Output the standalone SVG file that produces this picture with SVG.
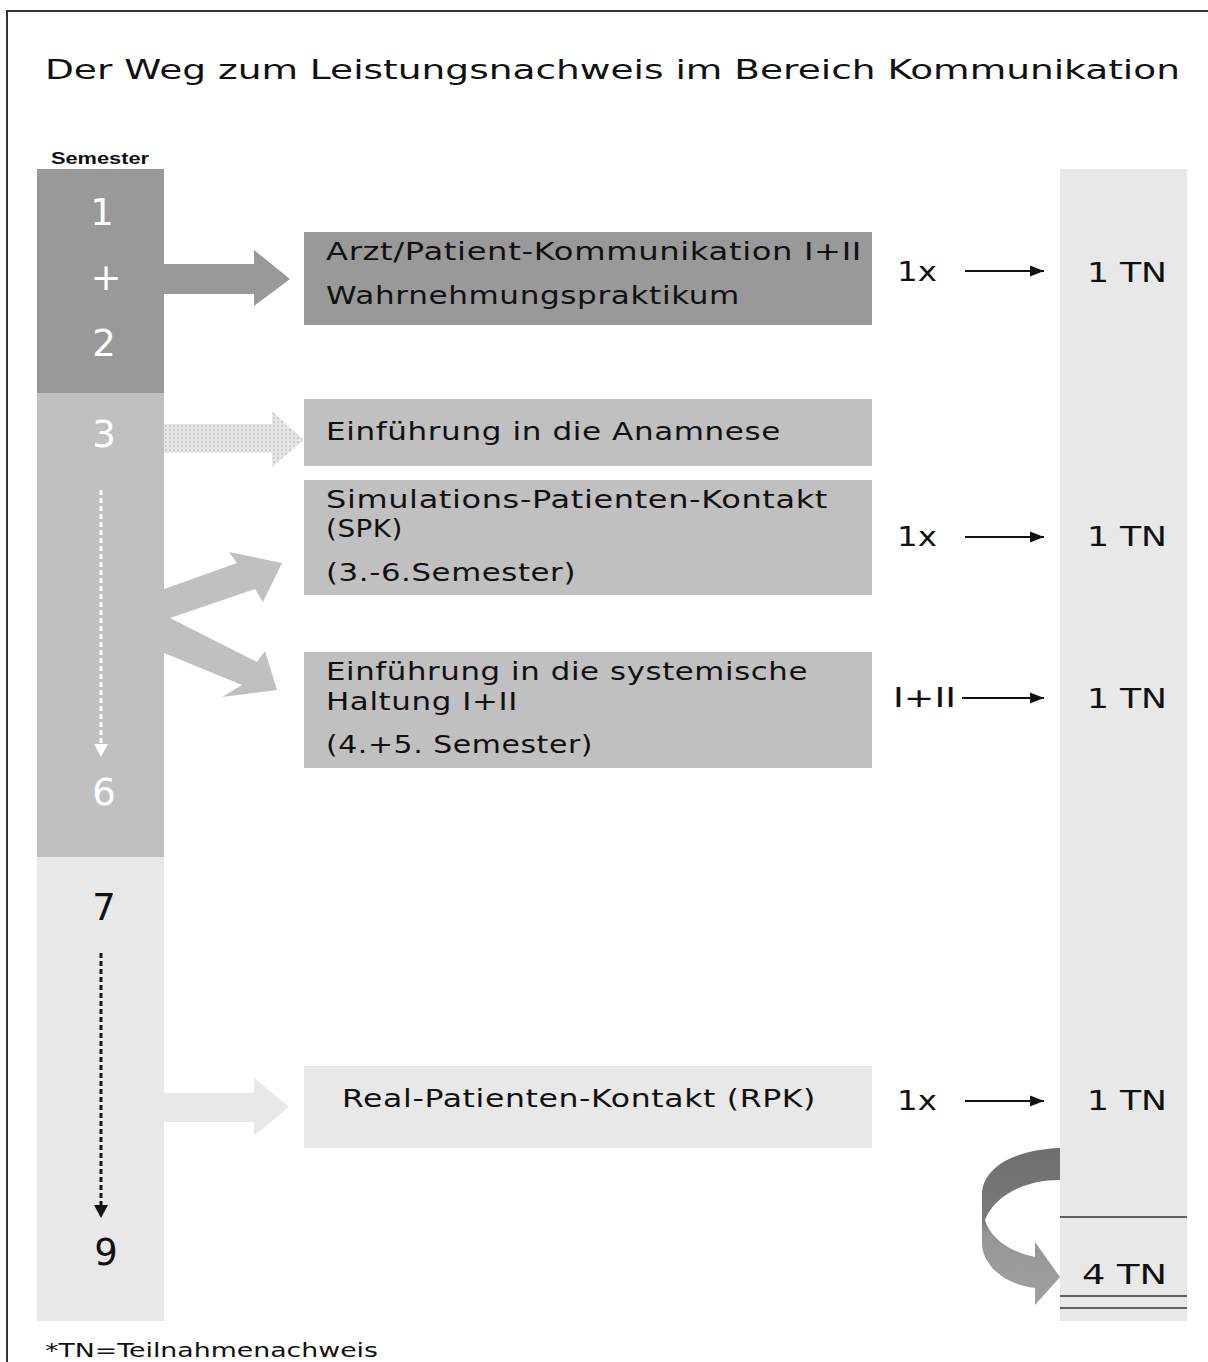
<svg xmlns="http://www.w3.org/2000/svg" width="1208" height="1362" viewBox="0 0 1208 1362">
<style>
.t{font-family:"DejaVu Sans","Liberation Sans",sans-serif;fill:#111}
.box{font-size:25px;letter-spacing:0.5px}
.num{font-family:"DejaVu Sans",sans-serif;font-size:37px;text-anchor:middle}
.w{fill:#ffffff}
.tn{font-size:27px}
.sm{stroke:#111;stroke-width:2;fill:none}
</style>
<defs>
<pattern id="dots" width="4" height="4" patternUnits="userSpaceOnUse">
<rect width="4" height="4" fill="#e6e6e6"/>
<circle cx="2" cy="2" r="1" fill="#c4c4c4"/>
</pattern>
<linearGradient id="curv" x1="0" y1="1148" x2="0" y2="1305" gradientUnits="userSpaceOnUse">
<stop offset="0" stop-color="#6e6e6e"/>
<stop offset="0.45" stop-color="#7a7a7a"/>
<stop offset="0.55" stop-color="#969696"/>
<stop offset="1" stop-color="#a0a0a0"/>
</linearGradient>
<marker id="ah" viewBox="0 0 10 10" refX="10" refY="5" markerWidth="14" markerHeight="14" markerUnits="userSpaceOnUse" orient="auto">
<path d="M0,1 L10,5 L0,9 Z" fill="#111"/>
</marker>
</defs>
<rect width="1208" height="1362" fill="#ffffff"/>
<path d="M7,1362 L7,11 L1208,11" fill="none" stroke="#333" stroke-width="2"/>
<text class="t" x="45" y="79" font-size="26" textLength="1135" lengthAdjust="spacingAndGlyphs">Der Weg zum Leistungsnachweis im Bereich Kommunikation</text>

<g id="semester-column">
<text x="51" y="164" font-family="Liberation Sans,Arial,sans-serif" font-weight="bold" font-size="16" fill="#111" textLength="98" lengthAdjust="spacingAndGlyphs">Semester</text>
<rect x="37" y="169" width="127" height="224" fill="#999999"/>
<rect x="37" y="393" width="127" height="464" fill="#c0c0c0"/>
<rect x="37" y="857" width="127" height="464" fill="#e8e8e8"/>
<text class="num w" x="102" y="225">1</text>
<text class="num w" x="106" y="290" font-size="30">+</text>
<text class="num w" x="104" y="356">2</text>
<text class="num w" x="104" y="447">3</text>
<text class="num w" x="104" y="805">6</text>
<text class="num" x="104" y="920" fill="#111">7</text>
<text class="num" x="106" y="1265" fill="#111">9</text>
<line x1="101" y1="490" x2="101" y2="744" stroke="#ffffff" stroke-width="3" stroke-dasharray="5,3"/>
<path d="M94,744 L108,744 L101,757 Z" fill="#ffffff"/>
<line x1="101" y1="953" x2="101" y2="1205" stroke="#111" stroke-width="3" stroke-dasharray="5,3"/>
<path d="M94,1205 L108,1205 L101,1218 Z" fill="#111"/>
</g>

<g id="tn-column">
<rect x="1060" y="169" width="127" height="1152" fill="#e8e8e8"/>
<line x1="1060" y1="1217" x2="1187" y2="1217" stroke="#333" stroke-width="1.5"/>
<line x1="1060" y1="1296" x2="1187" y2="1296" stroke="#333" stroke-width="1.5"/>
<line x1="1060" y1="1308" x2="1187" y2="1308" stroke="#333" stroke-width="1.5"/>
<text class="t tn" x="1087" y="282" textLength="80" lengthAdjust="spacingAndGlyphs">1 TN</text>
<text class="t tn" x="1087" y="546" textLength="80" lengthAdjust="spacingAndGlyphs">1 TN</text>
<text class="t tn" x="1087" y="708" textLength="80" lengthAdjust="spacingAndGlyphs">1 TN</text>
<text class="t tn" x="1087" y="1110" textLength="80" lengthAdjust="spacingAndGlyphs">1 TN</text>
<text class="t tn" x="1082" y="1284" textLength="85" lengthAdjust="spacingAndGlyphs">4 TN</text>
</g>

<g id="node-arzt">
<rect x="304" y="232" width="568" height="93" fill="#999999"/>
<text class="t box" x="326" y="260" textLength="536" lengthAdjust="spacingAndGlyphs">Arzt/Patient-Kommunikation I+II</text>
<text class="t box" x="326" y="304" textLength="414" lengthAdjust="spacingAndGlyphs">Wahrnehmungspraktikum</text>
</g>
<g id="node-anamnese">
<rect x="304" y="399" width="568" height="67" fill="#c0c0c0"/>
<text class="t box" x="326" y="440" textLength="455" lengthAdjust="spacingAndGlyphs">Einführung in die Anamnese</text>
</g>
<g id="node-spk">
<rect x="304" y="480" width="568" height="115" fill="#c0c0c0"/>
<text class="t box" x="326" y="508" textLength="502" lengthAdjust="spacingAndGlyphs">Simulations-Patienten-Kontakt</text>
<text class="t box" x="326" y="537" textLength="77" lengthAdjust="spacingAndGlyphs">(SPK)</text>
<text class="t box" x="326" y="581" textLength="250" lengthAdjust="spacingAndGlyphs">(3.-6.Semester)</text>
</g>
<g id="node-systemisch">
<rect x="304" y="652" width="568" height="116" fill="#c0c0c0"/>
<text class="t box" x="326" y="680" textLength="482" lengthAdjust="spacingAndGlyphs">Einführung in die systemische</text>
<text class="t box" x="326" y="710" textLength="192" lengthAdjust="spacingAndGlyphs">Haltung I+II</text>
<text class="t box" x="326" y="753" textLength="267" lengthAdjust="spacingAndGlyphs">(4.+5. Semester)</text>
</g>
<g id="node-rpk">
<rect x="304" y="1066" width="568" height="82" fill="#e8e8e8"/>
<text class="t box" x="342" y="1107" textLength="474" lengthAdjust="spacingAndGlyphs">Real-Patienten-Kontakt (RPK)</text>
</g>

<g id="connectors">
<path d="M164,264 L254,264 L254,250 L290,279 L254,306 L254,294 L164,294 Z" fill="#999999"/>
<path d="M164,424 L272,424 L272,411 L304,440 L272,467 L272,453 L164,453 Z" fill="url(#dots)"/>
<path d="M164,589 L237,563 L229,552 L282,563 L263,602 L255,589 L170,618 L257,662 L265,651 L277,690 L222,697 L242,685 L164,653 Z" fill="#c0c0c0"/>
<path d="M164,1093 L254,1093 L254,1078 L289,1107 L254,1136 L254,1122 L164,1122 Z" fill="#e8e8e8"/>
<path d="M1060,1148 C1010,1150 982,1170 982,1195 L982,1243 C982,1265 1005,1285 1035,1288 L1035,1305 L1060,1277 L1035,1242 L1035,1257 C1010,1252 990,1238 985,1220 C995,1195 1025,1180 1060,1180 Z" fill="url(#curv)"/>
<text class="t tn" x="897" y="281" textLength="40" lengthAdjust="spacingAndGlyphs">1x</text>
<line class="sm" x1="965" y1="271" x2="1044" y2="271" marker-end="url(#ah)"/>
<text class="t tn" x="897" y="546" textLength="40" lengthAdjust="spacingAndGlyphs">1x</text>
<line class="sm" x1="965" y1="537" x2="1044" y2="537" marker-end="url(#ah)"/>
<text class="t tn" x="893" y="707" textLength="63" lengthAdjust="spacingAndGlyphs">I+II</text>
<line class="sm" x1="962" y1="698" x2="1044" y2="698" marker-end="url(#ah)"/>
<text class="t tn" x="897" y="1110" textLength="40" lengthAdjust="spacingAndGlyphs">1x</text>
<line class="sm" x1="965" y1="1101" x2="1044" y2="1101" marker-end="url(#ah)"/>
</g>

<text class="t" x="45" y="1357" font-size="20" textLength="333" lengthAdjust="spacingAndGlyphs">*TN=Teilnahmenachweis</text>
</svg>
